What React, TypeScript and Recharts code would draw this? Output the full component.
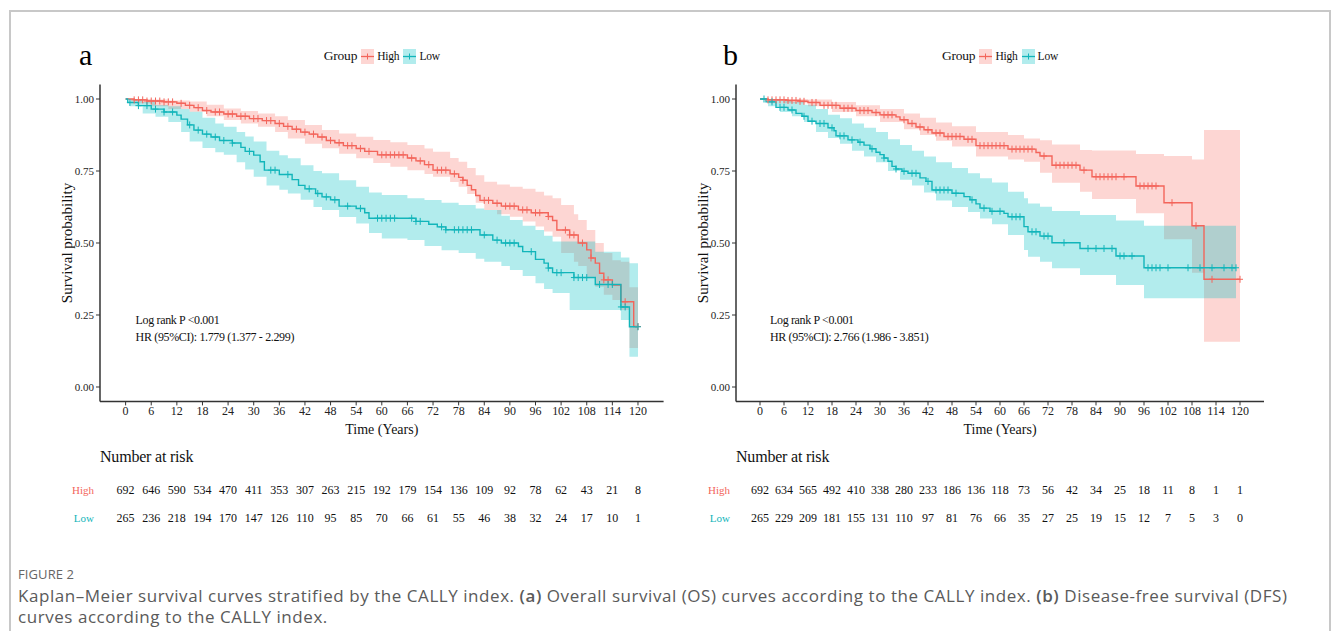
import React from "react";
import { ComposedChart, Line, Area, Scatter, XAxis, YAxis, Label } from "recharts";

// ---- data ----
const timeTicks = [0, 6, 12, 18, 24, 30, 36, 42, 48, 54, 60, 66, 72, 78, 84, 90, 96, 102, 108, 114, 120];
const survTicks = [0, 0.25, 0.5, 0.75, 1];

// panel a: overall survival, [time, survival]
const aHigh = [
  [0, 1], [2, 0.997], [5, 0.993], [9, 0.99], [12, 0.985], [14, 0.978], [16, 0.97], [18, 0.96], [20, 0.955],
  [23, 0.948], [26, 0.94], [29, 0.932], [32, 0.925], [35, 0.915], [37, 0.905], [39, 0.895], [41, 0.885],
  [43, 0.878], [45, 0.868], [47, 0.856], [49, 0.848], [51, 0.838], [54, 0.828], [56, 0.818], [59, 0.806],
  [66, 0.795], [68, 0.785], [70, 0.772], [72, 0.753], [76, 0.74], [78, 0.728], [79, 0.718], [80, 0.7],
  [81, 0.685], [82, 0.665], [83, 0.648], [86, 0.638], [88, 0.628], [92, 0.615], [95, 0.605], [99, 0.592],
  [100, 0.578], [101, 0.545], [104, 0.528], [106, 0.5], [108, 0.476], [109, 0.448], [110, 0.43], [111, 0.395],
  [112, 0.372], [114, 0.354], [116, 0.296], [119, 0.21], [120, 0.21],
];
const aLow = [
  [0, 1], [0.5, 0.988], [3, 0.977], [6, 0.965], [9, 0.955], [12, 0.944], [13, 0.93], [14.5, 0.91], [16, 0.892],
  [18, 0.878], [20, 0.868], [22, 0.856], [25, 0.847], [27, 0.832], [28, 0.818], [30, 0.805], [31.5, 0.782],
  [32.5, 0.753], [36, 0.738], [39, 0.72], [40.5, 0.7], [42, 0.688], [44.5, 0.672], [46, 0.66], [48, 0.65],
  [50, 0.628], [54, 0.62], [56, 0.605], [57, 0.586], [68, 0.575], [71, 0.565], [73, 0.556], [75, 0.546],
  [83, 0.528], [86, 0.51], [88, 0.5], [92, 0.488], [93, 0.47], [96, 0.443], [98, 0.43], [99, 0.413],
  [100, 0.397], [105, 0.38], [110, 0.356], [116, 0.278], [118, 0.209], [120, 0.209],
];
// [time, lower, upper]
const aHighCI = [
  [0, 1, 1], [3, 0.985, 1], [6, 0.975, 0.998], [10, 0.965, 0.995], [15, 0.956, 0.991], [19, 0.94, 0.98],
  [23, 0.927, 0.967], [27, 0.915, 0.958], [31, 0.904, 0.95], [35, 0.885, 0.94], [38, 0.863, 0.927],
  [42, 0.845, 0.91], [46, 0.829, 0.892], [50, 0.81, 0.88], [54, 0.794, 0.869], [58, 0.778, 0.858],
  [62, 0.765, 0.85], [66, 0.753, 0.84], [70, 0.74, 0.828], [72, 0.73, 0.817], [76, 0.712, 0.795],
  [78, 0.695, 0.782], [80, 0.67, 0.76], [82, 0.64, 0.735], [84, 0.615, 0.713], [87, 0.6, 0.703],
  [90, 0.591, 0.695], [93, 0.575, 0.688], [96, 0.557, 0.678], [98, 0.54, 0.665], [100, 0.522, 0.655],
  [102, 0.465, 0.632], [105, 0.435, 0.6], [106, 0.42, 0.58], [108, 0.383, 0.545], [110, 0.348, 0.5],
  [112, 0.32, 0.465], [114, 0.302, 0.44], [116, 0.267, 0.435], [118, 0.135, 0.346], [120, 0.135, 0.346],
];
const aLowCI = [
  [0, 1, 1], [1, 0.975, 1], [4, 0.95, 0.99], [7, 0.938, 0.979], [10, 0.92, 0.975], [13, 0.885, 0.965],
  [15, 0.852, 0.956], [18, 0.83, 0.935], [21, 0.815, 0.915], [23, 0.806, 0.904], [26, 0.78, 0.885],
  [28, 0.755, 0.87], [30, 0.73, 0.852], [33, 0.7, 0.82], [36, 0.685, 0.805], [38, 0.672, 0.794],
  [41, 0.65, 0.77], [44, 0.625, 0.75], [46, 0.615, 0.742], [50, 0.59, 0.718], [54, 0.568, 0.695],
  [57, 0.535, 0.675], [60, 0.516, 0.667], [66, 0.51, 0.655], [70, 0.49, 0.649], [74, 0.475, 0.64],
  [78, 0.465, 0.632], [82, 0.445, 0.62], [84, 0.435, 0.615], [88, 0.42, 0.595], [90, 0.406, 0.58],
  [93, 0.385, 0.56], [96, 0.36, 0.545], [98, 0.34, 0.525], [100, 0.326, 0.505], [104, 0.267, 0.505],
  [110, 0.267, 0.47], [116, 0.233, 0.45], [118, 0.105, 0.43], [120, 0.105, 0.43],
];
const aHighCensor = [2, 3, 4, 5, 6, 7, 8, 9, 10, 11, 13, 15, 17, 19, 21, 22, 24, 25, 27, 28, 30, 31, 33, 34, 36, 38, 40,
  42, 44, 46, 48, 50, 52, 53, 55, 57, 60, 61, 62, 63, 64, 65, 67, 69, 71, 73, 74, 75, 77, 79, 84, 85, 87, 89, 90, 91,
  93, 94, 96, 97, 99, 103, 104, 105, 107, 109, 112, 113, 117, 120];
const aLowCensor = [1, 3, 5, 7, 9, 11, 15, 17, 19, 21, 23, 25, 29, 34, 35, 38, 43, 45, 47, 49, 52, 55, 59, 60, 61, 62, 63,
  67, 68, 69, 74, 75, 77, 78, 79, 80, 81, 84, 87, 89, 90, 91, 95, 99, 101, 102, 105, 106, 107, 108, 111, 113, 114, 116,
  117, 120];
const aRiskHigh = [692, 646, 590, 534, 470, 411, 353, 307, 263, 215, 192, 179, 154, 136, 109, 92, 78, 62, 43, 21, 8];
const aRiskLow = [265, 236, 218, 194, 170, 147, 126, 110, 95, 85, 70, 66, 61, 55, 46, 38, 32, 24, 17, 10, 1];

// panel b: disease-free survival
const bHigh = [
  [0, 1], [2, 0.997], [7, 0.995], [10, 0.992], [12, 0.988], [15, 0.978], [20, 0.968], [24, 0.96], [28, 0.953],
  [30, 0.945], [34, 0.938], [35, 0.928], [37, 0.915], [39, 0.903], [41, 0.893], [43, 0.882], [46, 0.87],
  [51, 0.86], [54, 0.838], [62, 0.826], [69, 0.814], [70, 0.802], [73, 0.77], [80, 0.753], [83, 0.73],
  [94, 0.698], [101, 0.64], [108, 0.56], [111, 0.374], [120, 0.374],
];
const bLow = [
  [0, 1], [1.5, 0.99], [4, 0.971], [7, 0.962], [9, 0.95], [10.5, 0.94], [12, 0.923], [14, 0.915], [17, 0.9],
  [18.5, 0.89], [19, 0.872], [22, 0.858], [24.5, 0.85], [26, 0.84], [27.5, 0.827], [29, 0.815], [30, 0.807],
  [31, 0.795], [32, 0.784], [33, 0.766], [34, 0.757], [35.5, 0.749], [37, 0.742], [40, 0.726], [41.5, 0.714],
  [43, 0.684], [48, 0.673], [51, 0.661], [52.5, 0.65], [54, 0.636], [55, 0.621], [57.5, 0.61], [61, 0.603],
  [62, 0.591], [66, 0.557], [67, 0.539], [70, 0.524], [73, 0.501], [80, 0.481], [89, 0.455], [96, 0.414],
  [119, 0.414],
];
const bHighCI = [
  [0, 1, 1], [6, 0.985, 1], [12, 0.975, 0.998], [18, 0.955, 0.99], [24, 0.94, 0.978], [30, 0.92, 0.965],
  [36, 0.895, 0.95], [40, 0.875, 0.935], [44, 0.855, 0.918], [48, 0.835, 0.905], [54, 0.8, 0.885],
  [62, 0.79, 0.875], [66, 0.782, 0.863], [70, 0.744, 0.857], [73, 0.709, 0.842], [80, 0.678, 0.823],
  [83, 0.653, 0.821], [94, 0.603, 0.809], [101, 0.513, 0.802], [108, 0.397, 0.79], [111, 0.157, 0.892],
  [120, 0.157, 0.892],
];
const bLowCI = [
  [0, 1, 1], [2, 0.975, 1], [5, 0.955, 0.995], [8, 0.94, 0.99], [11, 0.92, 0.98], [14, 0.885, 0.965],
  [17, 0.865, 0.945], [20, 0.845, 0.933], [23, 0.82, 0.915], [26, 0.8, 0.9], [29, 0.78, 0.885],
  [32, 0.75, 0.86], [35, 0.72, 0.84], [38, 0.7, 0.82], [41, 0.675, 0.8], [44, 0.648, 0.78], [48, 0.625, 0.76],
  [52, 0.608, 0.742], [55, 0.585, 0.725], [58, 0.565, 0.71], [62, 0.528, 0.678], [66, 0.476, 0.655],
  [67, 0.452, 0.637], [70, 0.435, 0.626], [73, 0.412, 0.611], [80, 0.389, 0.597], [89, 0.354, 0.578],
  [96, 0.308, 0.56], [119, 0.308, 0.56],
];
const bHighCensor = [2, 3, 4, 5, 6, 7, 8, 9, 10, 11, 13, 14, 16, 17, 18, 19, 21, 22, 23, 25, 26, 27, 29, 31, 32, 33, 36,
  38, 40, 42, 44, 45, 47, 48, 49, 50, 52, 53, 55, 56, 57, 58, 59, 60, 61, 63, 64, 65, 66, 67, 68, 71, 74, 75, 76, 77,
  78, 79, 81, 84, 85, 86, 87, 88, 89, 91, 95, 96, 97, 98, 99, 103, 109, 113, 120];
const bLowCensor = [1, 3, 5, 6, 8, 11, 13, 15, 16, 18, 20, 21, 23, 25, 28, 31, 34, 36, 38, 39, 42, 44, 45, 46, 47, 49, 53,
  56, 58, 60, 63, 64, 65, 68, 69, 71, 72, 76, 82, 84, 86, 88, 90, 91, 93, 97, 98, 99, 100, 102, 107, 110, 113, 116,
  118, 119];
const bRiskHigh = [692, 634, 565, 492, 410, 338, 280, 233, 186, 136, 118, 73, 56, 42, 34, 25, 18, 11, 8, 1, 1];
const bRiskLow = [265, 229, 209, 181, 155, 131, 110, 97, 81, 76, 66, 35, 27, 25, 19, 15, 12, 7, 5, 3, 0];

// ---- styling ----
const RED = "#F3655B";
const TEAL = "#12B5BA";
const RED_BAND = "#F8766D";
const TEAL_BAND = "#00BFC4";
const SERIF = "'Liberation Serif', 'Times New Roman', serif";
const SANS = "'Open Sans', 'Noto Sans', sans-serif";

const toCurve = (c: number[][]) => c.map(([t, s]) => ({ t, s }));
const toBand = (c: number[][]) => c.map(([t, lo, hi]) => ({ t, range: [lo, hi] }));
const survAt = (c: number[][], t: number) => {
  let s = c[0][1];
  for (const [ti, si] of c) if (ti <= t) s = si;
  return s;
};
const toCensor = (times: number[], c: number[][]) => times.map((t) => ({ t, s: survAt(c, t) }));
const toRisk = (high: number[], low: number[]) => [
  ...timeTicks.map((t, i) => ({ t, row: "High", n: high[i] })),
  ...timeTicks.map((t, i) => ({ t, row: "Low", n: low[i] })),
];

const plus = (color: string) => (props: any) => {
  const { cx, cy } = props;
  if (cx == null || cy == null) return <g />;
  return (
    <g stroke={color} strokeWidth={1}>
      <line x1={cx - 3} x2={cx + 3} y1={cy} y2={cy} />
      <line x1={cx} x2={cx} y1={cy - 3.5} y2={cy + 3.5} />
    </g>
  );
};

const YTitle = (props: any) => {
  const vb = props.viewBox || {};
  const x = vb.x + vb.width - 33;
  const y = vb.y + vb.height / 2;
  return (
    <text x={x} y={y} transform={`rotate(-90 ${x} ${y})`} textAnchor="middle" dominantBaseline="central"
      style={{ fontSize: 15, fontFamily: SERIF, fill: "#111" }}>
      Survival probability
    </text>
  );
};

const RiskNumber = (props: any) => {
  const { cx, cy, payload } = props;
  if (cx == null || cy == null) return <g />;
  return (
    <text x={cx} y={cy} dy={4} textAnchor="middle" style={{ fontSize: 12, fontFamily: SERIF, fill: "#111" }}>
      {payload.n}
    </text>
  );
};

const RiskRowTick = (props: any) => {
  const { x, y, payload } = props;
  return (
    <text x={x} y={y} dy={4} textAnchor="end"
      style={{ fontSize: 11, fontFamily: SERIF, fill: payload.value === "High" ? RED : TEAL }}>
      {payload.value}
    </text>
  );
};

function LegendKey({ line, band }: { line: string; band: string }) {
  return (
    <svg width={13} height={15} style={{ display: "block" }}>
      <rect x={0} y={0} width={13} height={15} fill={band} fillOpacity={0.3} />
      <line x1={0} x2={13} y1={7.5} y2={7.5} stroke={line} strokeWidth={1.3} />
      <line x1={6.5} x2={6.5} y1={4.5} y2={10.5} stroke={line} strokeWidth={1} />
    </svg>
  );
}

interface PanelProps {
  left: number;
  letter: string;
  letterDx: number;
  high: number[][];
  low: number[][];
  highCI: number[][];
  lowCI: number[][];
  highCensor: number[];
  lowCensor: number[];
  riskHigh: number[];
  riskLow: number[];
  hr: string;
  plotW: number;
}

function KMPanel(p: PanelProps) {
  const width = 100 + p.plotW + 16;
  const plotLeft = p.left + 100;
  const x0 = plotLeft + (6 / 132) * p.plotW;
  return (
    <>
      <div style={{ position: "absolute", left: plotLeft + p.letterDx, top: 38, fontFamily: SERIF, fontSize: 30,
        lineHeight: "34px" }}>
        {p.letter}
      </div>
      <div style={{ position: "absolute", left: plotLeft, width: p.plotW, top: 47, display: "flex", justifyContent: "center",
        alignItems: "center", fontFamily: SERIF, height: 18, color: "#111" }}>
        <span style={{ fontSize: 13.5, marginRight: 4, letterSpacing: -0.2 }}>Group</span>
        <LegendKey line={RED} band={RED_BAND} />
        <span style={{ fontSize: 11.5, margin: "0 4px 0 3px", letterSpacing: -0.2 }}>High</span>
        <LegendKey line={TEAL} band={TEAL_BAND} />
        <span style={{ fontSize: 11.5, marginLeft: 3, letterSpacing: -0.2 }}>Low</span>
      </div>
      <div style={{ position: "absolute", left: p.left, top: 0 }}>
        <ComposedChart width={width} height={440} margin={{ top: 84.6, right: 16, bottom: 0, left: 0 }}>
          <XAxis dataKey="t" type="number" domain={[-6, 126]} ticks={timeTicks} interval={0} allowDataOverflow
            tick={{ fontSize: 12, fill: "#222", fontFamily: SERIF }} tickSize={4} tickMargin={1}
            axisLine={{ stroke: "#333", strokeWidth: 1.5 }} tickLine={{ stroke: "#333" }} height={38.6}>
            <Label value="Time (Years)" position="insideBottom" offset={6}
              style={{ fontSize: 14, fill: "#111", fontFamily: SERIF }} />
          </XAxis>
          <YAxis type="number" domain={[-0.05, 1.05]} ticks={survTicks} interval={0} allowDataOverflow width={100}
            tickFormatter={(v: number) => v.toFixed(2)} tick={{ fontSize: 11, fill: "#222", fontFamily: SERIF }}
            tickSize={4} tickMargin={2} axisLine={{ stroke: "#333", strokeWidth: 1.5 }} tickLine={{ stroke: "#333" }}>
            <Label content={<YTitle />} />
          </YAxis>
          <Area data={toBand(p.highCI)} dataKey="range" type="stepAfter" stroke="none" fill={RED_BAND}
            fillOpacity={0.3} isAnimationActive={false} activeDot={false} />
          <Area data={toBand(p.lowCI)} dataKey="range" type="stepAfter" stroke="none" fill={TEAL_BAND}
            fillOpacity={0.3} isAnimationActive={false} activeDot={false} />
          <Line data={toCurve(p.high)} dataKey="s" type="stepAfter" stroke={RED} strokeWidth={1.4} dot={false}
            activeDot={false} isAnimationActive={false} />
          <Line data={toCurve(p.low)} dataKey="s" type="stepAfter" stroke={TEAL} strokeWidth={1.4} dot={false}
            activeDot={false} isAnimationActive={false} />
          <Scatter data={toCensor(p.highCensor, p.high)} dataKey="s" shape={plus(RED)} isAnimationActive={false} />
          <Scatter data={toCensor(p.lowCensor, p.low)} dataKey="s" shape={plus(TEAL)} isAnimationActive={false} />
        </ComposedChart>
      </div>
      <div style={{ position: "absolute", left: x0 + 10, top: 312, fontFamily: SERIF, fontSize: 12, lineHeight: "17px",
        whiteSpace: "nowrap", color: "#111", letterSpacing: -0.35 }}>
        <div>Log rank P &lt;0.001</div>
        <div>{p.hr}</div>
      </div>
      <div style={{ position: "absolute", left: plotLeft, top: 448, fontFamily: SERIF, fontSize: 16, color: "#111",
        letterSpacing: -0.2 }}>
        Number at risk
      </div>
      <div style={{ position: "absolute", left: p.left, top: 470 }}>
        <ComposedChart width={width} height={70} margin={{ top: 6, right: 16, bottom: 8, left: 0 }}>
          <XAxis dataKey="t" type="number" domain={[-6, 126]} hide />
          <YAxis dataKey="row" type="category" allowDuplicatedCategory={false} reversed width={100} interval={0}
            padding={{ top: 14, bottom: 14 }} tick={<RiskRowTick />} tickLine={false} axisLine={false}
            tickSize={0} tickMargin={6} />
          <Scatter data={toRisk(p.riskHigh, p.riskLow)} shape={<RiskNumber />} isAnimationActive={false} />
        </ComposedChart>
      </div>
    </>
  );
}

export default function App() {
  return (
    <div style={{ position: "absolute", left: 0, top: 0, width: 1333, height: 631, background: "#fff", overflow: "hidden" }}>
      <div style={{ position: "absolute", left: 9, top: 10, width: 1322, height: 660, boxSizing: "border-box",
        border: "2px solid #c8c8c8" }} />
      <KMPanel left={0} letter="a" letterDx={-21} plotW={563.6} high={aHigh} low={aLow} highCI={aHighCI} lowCI={aLowCI}
        highCensor={aHighCensor} lowCensor={aLowCensor} riskHigh={aRiskHigh} riskLow={aRiskLow}
        hr="HR (95%CI): 1.779 (1.377 - 2.299)" />
      <KMPanel left={636} letter="b" letterDx={-13} plotW={528} high={bHigh} low={bLow} highCI={bHighCI} lowCI={bLowCI}
        highCensor={bHighCensor} lowCensor={bLowCensor} riskHigh={bRiskHigh} riskLow={bRiskLow}
        hr="HR (95%CI): 2.766 (1.986 - 3.851)" />
      <div style={{ position: "absolute", left: 18, top: 565, fontFamily: SANS, fontSize: 13, fontWeight: 500,
        color: "#666", letterSpacing: 0.1 }}>
        FIGURE 2
      </div>
      <div style={{ position: "absolute", left: 18, top: 585, fontFamily: SANS, fontSize: 17, color: "#5a5a5a",
        lineHeight: "21px", whiteSpace: "nowrap", letterSpacing: 0.55 }}>
        <div>
          Kaplan–Meier survival curves stratified by the CALLY index. <b style={{ fontWeight: 600 }}>(a)</b> Overall
          survival (OS) curves according to the CALLY index. <b style={{ fontWeight: 600 }}>(b)</b> Disease-free survival
          (DFS)
        </div>
        <div>curves according to the CALLY index.</div>
      </div>
    </div>
  );
}
